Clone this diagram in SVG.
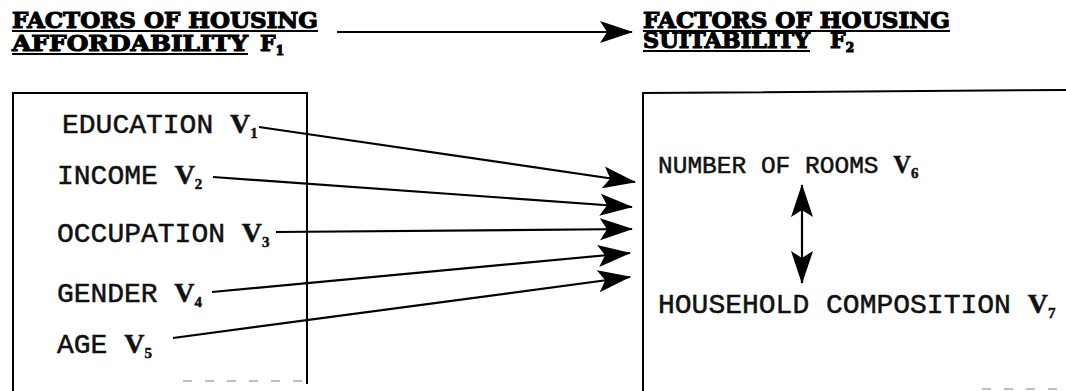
<svg xmlns="http://www.w3.org/2000/svg" width="1066" height="391" viewBox="0 0 1066 391">
<style>
.title{font-family:"DejaVu Serif","Liberation Serif",serif;font-weight:bold;font-size:22px;fill:#000;stroke:#000;stroke-width:1.1}
.tsub{font-size:12px}
.lbl{font-family:"Liberation Mono","Courier New",monospace;font-size:28px;fill:#111;stroke:#111;stroke-width:0.5}
.small{font-size:24.5px}
.v{font-family:"Liberation Serif",serif;font-weight:bold}
.sub{font-family:"Liberation Serif",serif;font-weight:bold;font-size:15px}
.edge{fill:none;stroke:#000;stroke-width:2}
.ul{stroke:#000;stroke-width:2}
.conn{fill:none;stroke:#000;stroke-width:2.2}
.dash{stroke:#aaa;stroke-width:1.5;stroke-dasharray:9 13}
</style>
<defs>
<marker id="ah" markerUnits="userSpaceOnUse" markerWidth="34" markerHeight="24" refX="32" refY="12" orient="auto-start-reverse" viewBox="0 0 34 24">
<path d="M0,1 L33,12 L0,23 L7,12 Z" fill="#000"/>
</marker>
</defs>
<rect width="1066" height="391" fill="#fff"/>

<g id="title-f1">
<text class="title" x="12" y="28" textLength="306" lengthAdjust="spacingAndGlyphs">FACTORS OF HOUSING</text>
<line class="ul" x1="12" y1="31" x2="318" y2="31"/>
<text class="title" x="12" y="51" textLength="236" lengthAdjust="spacingAndGlyphs">AFFORDABILITY</text>
<line class="ul" x1="12" y1="54" x2="248" y2="54"/>
<text class="title" x="260" y="51">F<tspan class="tsub" dy="4">1</tspan></text>
</g>

<g id="title-f2">
<text class="title" x="643" y="28" textLength="307" lengthAdjust="spacingAndGlyphs">FACTORS OF HOUSING</text>
<line class="ul" x1="643" y1="31" x2="950" y2="31"/>
<text class="title" x="643" y="48" textLength="167" lengthAdjust="spacingAndGlyphs">SUITABILITY</text>
<line class="ul" x1="643" y1="51" x2="810" y2="51"/>
<text class="title" x="830" y="48">F<tspan class="tsub" dy="4">2</tspan></text>
</g>

<g id="box-f1">
<path class="edge" d="M13,391 L13,93 L307,93 L307,384"/>
<line class="dash" x1="183" y1="381" x2="305" y2="381"/>
</g>

<g id="box-f2">
<path class="edge" d="M643,391 L643,93 L1066,90"/>
<line class="dash" x1="982" y1="389" x2="1062" y2="389"/>
</g>

<g id="node-v1"><text class="lbl" x="62" y="133">EDUCATION <tspan class="v">V</tspan><tspan class="sub" dy="5">1</tspan></text></g>
<g id="node-v2"><text class="lbl" x="57" y="184">INCOME <tspan class="v">V</tspan><tspan class="sub" dy="5">2</tspan></text></g>
<g id="node-v3"><text class="lbl" x="57" y="242">OCCUPATION <tspan class="v">V</tspan><tspan class="sub" dy="5">3</tspan></text></g>
<g id="node-v4"><text class="lbl" x="57" y="302" textLength="145" lengthAdjust="spacing">GENDER <tspan class="v">V</tspan><tspan class="sub" dy="5">4</tspan></text></g>
<g id="node-v5"><text class="lbl" x="57" y="353">AGE <tspan class="v">V</tspan><tspan class="sub" dy="5">5</tspan></text></g>
<g id="node-v6"><text class="lbl small" x="658" y="173">NUMBER OF ROOMS <tspan class="v">V</tspan><tspan class="sub" dy="5">6</tspan></text></g>
<g id="node-v7"><text class="lbl" x="658" y="313">HOUSEHOLD COMPOSITION <tspan class="v">V</tspan><tspan class="sub" dy="5">7</tspan></text></g>

<g id="connectors">
<line class="conn" x1="337" y1="32" x2="632" y2="32" marker-end="url(#ah)"/>
<line class="conn" x1="259" y1="127" x2="635" y2="182" marker-end="url(#ah)"/>
<line class="conn" x1="213" y1="177" x2="632" y2="207" marker-end="url(#ah)"/>
<line class="conn" x1="276" y1="232" x2="632" y2="229" marker-end="url(#ah)"/>
<line class="conn" x1="212" y1="292" x2="630" y2="253" marker-end="url(#ah)"/>
<line class="conn" x1="173" y1="338" x2="630" y2="277" marker-end="url(#ah)"/>
<line class="conn" x1="802" y1="185" x2="802" y2="283" marker-start="url(#ah)" marker-end="url(#ah)"/>
</g>
</svg>
